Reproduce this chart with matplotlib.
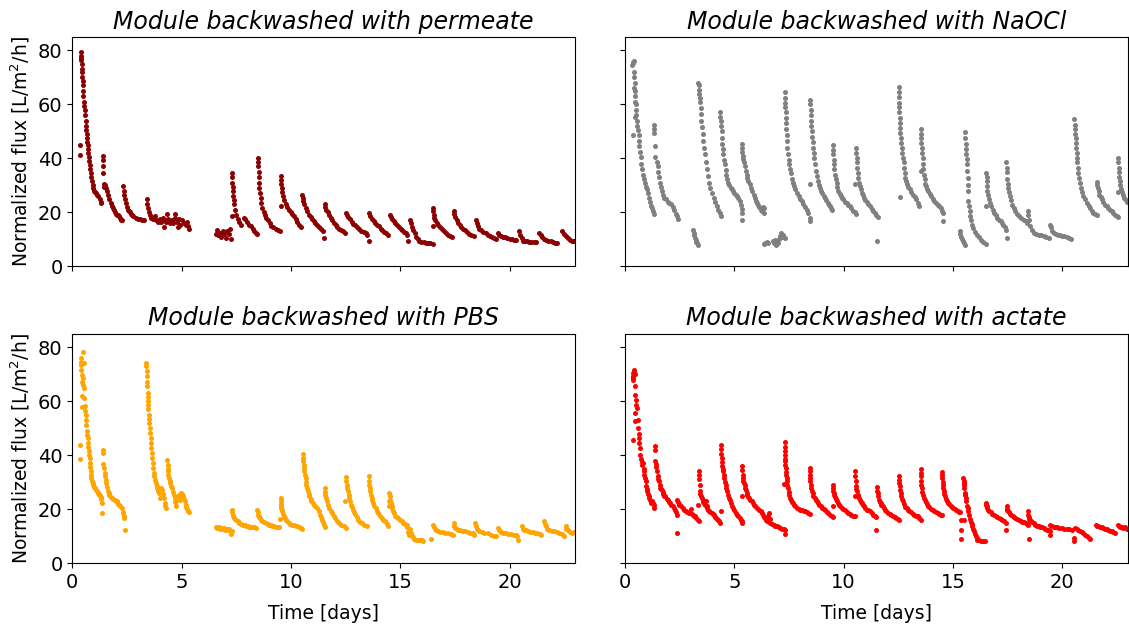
import numpy as np
import matplotlib
matplotlib.use("Agg")
import matplotlib.pyplot as plt

# (time [days], normalized flux [L/m2/h]) for each module
permeate = [
    # first cycle
    (0.36, 44.9), (0.36, 41.3), (0.39, 79.5), (0.40, 78), (0.41, 77), (0.42, 76.5), (0.43, 75),
    (0.44, 73), (0.45, 72), (0.46, 70), (0.47, 68.5), (0.48, 67), (0.50, 65), (0.51, 63),
    (0.53, 61), (0.55, 59.5), (0.57, 58), (0.59, 56), (0.61, 54), (0.63, 52), (0.64, 50.5),
    (0.66, 49), (0.67, 47.5), (0.68, 46), (0.70, 45), (0.72, 43.5), (0.74, 42), (0.76, 40.5),
    (0.78, 39), (0.80, 37.5), (0.83, 36), (0.85, 34.5), (0.88, 33), (0.91, 31.5), (0.94, 30),
    (0.97, 29), (1.01, 28), (1.05, 27.5), (1.10, 27), (1.15, 26.5), (1.20, 26), (1.25, 25),
    (1.30, 24), (1.33, 23.5),
    (1.39, 41), (1.39, 39.5), (1.40, 37), (1.41, 34.5), (1.43, 30.5), (1.45, 29.5), (1.50, 30),
    (1.55, 29), (1.60, 28), (1.65, 26.5), (1.70, 25), (1.75, 23.5), (1.80, 22.5), (1.85, 21.5),
    (1.90, 21), (1.95, 20), (2.00, 19.5), (2.05, 19), (2.10, 19), (2.15, 18.5), (2.20, 18),
    (2.24, 17.3), (2.26, 17),
    (2.33, 29.7), (2.35, 28), (2.38, 26.5), (2.41, 25), (2.45, 23.5), (2.50, 22), (2.55, 21),
    (2.60, 20.5), (2.65, 20), (2.70, 19.5), (2.75, 19), (2.80, 18.5), (2.90, 18), (3.00, 17.5),
    (3.10, 17.5), (3.20, 17), (3.30, 17),
    (3.42, 25), (3.44, 23), (3.47, 21.5), (3.50, 20), (3.55, 19), (3.62, 18), (3.70, 17.5),
    (3.78, 18.5), (3.85, 17), (3.92, 16.5), (4.00, 17.5), (4.08, 16.5), (4.15, 18), (4.20, 14.5),
    (4.22, 17), (4.30, 16.5), (4.35, 19.5), (4.40, 17.5), (4.48, 16), (4.55, 17), (4.62, 16),
    (4.68, 19.5), (4.72, 18), (4.80, 16.5), (4.85, 14.5), (4.88, 17.5), (4.95, 15.5), (5.02, 17),
    (5.10, 16), (5.18, 15.5), (5.25, 16.5), (5.30, 15), (5.36, 14),
    (6.58, 12), (6.62, 13.5), (6.68, 11.5), (6.75, 12.5), (6.82, 11), (6.88, 13), (6.95, 12),
    (7.02, 10.5), (7.08, 13), (7.15, 12), (7.22, 14), (7.28, 10),
    (7.29, 18.6), (7.30, 34.7), (7.31, 33), (7.32, 31), (7.33, 29.5), (7.34, 28), (7.36, 26),
    (7.38, 24.5), (7.41, 23), (7.45, 21), (7.50, 19), (7.56, 17.5), (7.63, 16.5), (7.71, 15.5),
    (7.86, 18), (7.92, 17.5), (8.00, 16.5), (8.08, 15.5), (8.17, 15), (8.25, 14), (8.32, 13),
    (8.40, 12.5), (8.46, 12),
    (8.50, 40), (8.50, 38.5), (8.51, 37), (8.52, 35), (8.53, 33), (8.54, 31), (8.56, 29),
    (8.58, 27), (8.61, 25.5), (8.65, 23.5), (8.70, 21.5), (8.76, 20), (8.82, 19), (8.88, 18),
    (8.95, 17), (9.03, 16), (9.10, 15), (9.20, 14.5), (9.30, 14), (9.40, 13.5), (9.48, 13),
    (9.53, 22.5), (9.53, 33.5), (9.54, 32), (9.55, 30.5), (9.57, 29), (9.60, 27.5), (9.64, 26),
    (9.70, 24.5), (9.76, 23), (9.84, 22), (9.91, 21), (10.00, 20), (10.06, 19.5), (10.14, 18.5),
    (10.21, 17.5), (10.30, 16.5), (10.38, 15.5), (10.45, 14.5),
    (10.52, 26.6), (10.54, 25.5), (10.57, 24.2), (10.62, 23), (10.68, 21.5), (10.74, 20.4),
    (10.82, 19.2), (10.90, 18.2), (10.97, 17.5), (11.05, 16.8), (11.12, 16.2), (11.20, 15.5),
    (11.30, 14.5), (11.38, 13.7), (11.45, 13), (11.50, 10.5),
    (11.55, 23), (11.58, 22), (11.62, 21), (11.68, 20), (11.75, 19), (11.82, 18), (11.90, 17),
    (11.98, 16), (12.05, 15.5), (12.13, 14.5), (12.22, 13.8), (12.30, 13.3), (12.40, 13),
    (12.48, 12.5),
    (12.53, 19.8), (12.57, 19), (12.62, 18.3), (12.70, 17.4), (12.78, 16.5), (12.86, 15.8),
    (12.95, 15.2), (13.03, 14.6), (13.12, 14), (13.22, 13.2), (13.32, 12.6), (13.42, 12.2),
    (13.50, 11.7), (13.55, 9.3),
    (13.57, 19.8), (13.62, 18.8), (13.70, 17.5), (13.78, 16.8), (13.86, 16), (13.94, 15.5),
    (14.02, 14.8), (14.10, 14), (14.18, 13.4), (14.26, 12.8), (14.35, 12.2), (14.44, 11.6),
    (14.53, 19.2), (14.57, 18.3), (14.63, 17.5), (14.70, 16.7), (14.78, 15.9), (14.86, 15.2),
    (14.94, 14.6), (15.02, 14), (15.10, 13.4), (15.18, 12.8), (15.26, 12.2), (15.33, 11.6),
    (15.36, 9.3),
    (15.45, 17), (15.50, 16), (15.55, 14.5), (15.60, 13.5), (15.66, 12.5), (15.72, 11),
    (15.80, 10), (15.88, 9.5), (15.97, 9), (16.08, 9), (16.18, 8.8), (16.27, 8.8), (16.38, 8.5),
    (16.48, 8.2),
    (16.50, 14.9), (16.50, 21.7), (16.51, 20.5), (16.53, 19.2), (16.56, 18), (16.60, 17),
    (16.66, 16), (16.73, 15.3), (16.82, 14.6), (16.90, 13.8), (16.98, 13), (17.08, 12.4),
    (17.18, 11.8), (17.28, 11.3), (17.38, 10.8),
    (17.45, 20.4), (17.47, 19.5), (17.52, 18.2), (17.58, 17), (17.65, 16.2), (17.72, 15.4),
    (17.80, 14.6), (17.88, 14), (17.96, 13.3), (18.05, 12.7), (18.15, 12), (18.25, 11.6),
    (18.36, 11.2),
    (18.47, 17.3), (18.50, 16), (18.55, 14.9), (18.62, 14), (18.70, 13.3), (18.80, 12.8),
    (18.90, 12.2), (19.00, 11.8), (19.10, 11.3), (19.20, 11), (19.30, 10.5), (19.38, 10),
    (19.45, 12.4), (19.52, 11.8), (19.60, 11.2), (19.70, 10.8), (19.80, 10.7), (19.90, 10.5),
    (20.00, 10.3), (20.10, 10), (20.20, 9.9), (20.30, 9.7),
    (20.44, 13), (20.48, 11.8), (20.55, 10.5), (20.62, 9.5), (20.70, 9.3), (20.80, 9.3),
    (20.90, 9.1), (21.00, 9), (21.10, 9), (21.20, 8.9),
    (21.35, 12.4), (21.42, 11.6), (21.50, 10.8), (21.58, 10.3), (21.68, 9.8), (21.78, 9.5),
    (21.88, 9.3), (21.98, 9), (22.08, 8.8), (22.18, 8.5),
    (22.41, 13), (22.48, 12), (22.56, 11.2), (22.65, 10.4), (22.75, 9.9), (22.85, 9.5),
    (22.95, 9.3),
]

naocl = [
    (0.36, 48.6), (0.33, 74.5), (0.35, 75.5), (0.38, 75.8), (0.42, 76), (0.40, 72), (0.42, 70),
    (0.44, 68), (0.41, 66), (0.45, 65), (0.47, 63), (0.44, 61), (0.49, 60), (0.50, 58),
    (0.52, 56), (0.48, 55.5), (0.55, 54), (0.57, 52), (0.60, 50.5), (0.62, 48.5), (0.64, 46.5),
    (0.66, 44.5), (0.69, 42.5), (0.72, 40.5), (0.75, 38), (0.78, 36), (0.82, 34), (0.86, 32.5),
    (0.90, 31), (0.95, 29.5), (1.00, 28.5), (1.05, 27), (1.10, 25.5), (1.15, 24), (1.20, 22.5),
    (1.25, 21.5), (1.30, 20.5), (1.35, 19.5),
    (1.33, 52.5), (1.34, 51), (1.35, 49.5), (1.37, 44.6), (1.37, 40.5), (1.45, 38.5), (1.50, 37),
    (1.53, 35), (1.56, 33), (1.59, 31), (1.63, 29.5), (1.68, 28), (1.73, 26.6), (1.80, 25.5),
    (1.88, 24.8), (1.95, 24), (2.03, 23.5), (2.10, 23), (2.18, 22), (2.25, 21), (2.33, 19.5),
    (2.38, 18.5), (2.41, 17.5),
    (3.12, 13.5), (3.14, 12.5), (3.17, 11.5), (3.20, 10.5), (3.23, 9.8), (3.26, 9), (3.30, 8.5),
    (3.33, 8),
    (3.36, 68), (3.37, 67), (3.38, 65.5), (3.40, 64), (3.42, 62.5), (3.44, 61), (3.46, 58.5),
    (3.48, 56.4), (3.50, 54), (3.53, 51.5), (3.56, 49), (3.59, 46.5), (3.62, 44), (3.65, 41.5),
    (3.69, 38.5), (3.73, 36), (3.78, 33.5), (3.84, 31), (3.89, 29), (3.96, 27), (4.05, 25.4),
    (4.12, 24), (4.20, 22.3), (4.27, 21), (4.33, 19.8), (4.38, 18.6),
    (4.33, 57), (4.36, 55.5), (4.38, 53.9), (4.40, 52), (4.42, 50.2), (4.44, 47.5), (4.45, 45.2),
    (4.48, 43.3), (4.50, 41.5), (4.53, 39.5), (4.56, 37.8), (4.60, 35.8), (4.64, 34),
    (4.68, 32.5), (4.73, 31), (4.78, 30), (4.83, 29), (4.88, 28.5), (4.94, 27.9), (5.00, 27.2),
    (5.06, 26.6), (5.12, 26), (5.18, 25.4), (5.24, 24.2), (5.29, 22.9), (5.33, 21.3),
    (5.36, 19.8), (5.36, 17.3),
    (5.33, 45.2), (5.34, 43.8), (5.36, 42.5), (5.39, 41), (5.42, 39.8), (5.45, 38.5), (5.49, 37),
    (5.52, 35.5), (5.56, 34), (5.60, 32.7), (5.65, 31.5), (5.70, 30.4), (5.76, 29), (5.82, 27.9),
    (5.88, 26.5), (5.94, 25.4), (6.00, 24.3), (6.05, 23.5), (6.10, 22.6), (6.15, 21.9),
    (6.21, 21), (6.27, 20.4), (6.32, 22), (6.36, 21.5), (6.36, 19.8),
    (6.36, 8.3), (6.42, 8.8), (6.48, 9.0), (6.55, 8.7), (6.76, 9.5), (6.80, 8.7), (6.85, 9.9),
    (6.90, 8.0), (6.95, 9.3), (7.00, 8.6), (7.05, 10.2), (7.10, 11.3), (7.15, 12.4), (7.20, 11.0),
    (7.25, 11.8), (7.30, 10.5),
    (7.30, 64.4), (7.31, 62.5), (7.32, 60.5), (7.33, 58.9), (7.35, 57), (7.36, 55.1), (7.37, 53),
    (7.38, 51), (7.40, 48.5), (7.41, 46.5), (7.43, 44), (7.45, 41.5), (7.48, 39.5), (7.52, 37.8),
    (7.55, 36), (7.59, 34.5), (7.63, 32.5), (7.67, 31), (7.73, 29.7), (7.79, 28.5), (7.86, 27.2),
    (7.94, 26), (8.01, 25), (8.09, 24.2), (8.16, 23), (8.24, 21.9), (8.31, 20.8), (8.39, 19.8),
    (8.44, 18), (8.47, 16.7), (8.48, 30.6),
    (8.47, 61.6), (8.48, 60), (8.49, 58), (8.50, 56), (8.51, 54), (8.53, 52), (8.55, 50.2),
    (8.57, 48), (8.59, 46), (8.61, 44), (8.63, 42), (8.66, 40), (8.69, 38), (8.73, 35.3),
    (8.77, 33.5), (8.82, 31.6), (8.87, 30.2), (8.92, 29.1), (8.98, 28), (9.03, 27.2),
    (9.09, 26.2), (9.15, 25.4), (9.21, 24.5), (9.27, 23.5), (9.33, 22.8), (9.38, 22.3),
    (9.43, 21.6), (9.48, 21),
    (9.50, 44.9), (9.51, 43), (9.53, 41.5), (9.55, 39.5), (9.56, 37.8), (9.58, 36), (9.61, 34),
    (9.64, 32.5), (9.68, 31), (9.72, 29.5), (9.76, 27.9), (9.82, 26.8), (9.88, 26), (9.93, 25.3),
    (9.98, 24.8), (10.06, 24), (10.14, 23.5), (10.21, 22.8), (10.29, 22.3), (10.36, 21.5),
    (10.44, 20.4), (10.50, 20), (10.56, 19.5),
    (10.53, 30.5), (10.56, 43.7), (10.57, 42), (10.59, 40.3), (10.61, 38.5), (10.62, 36.6),
    (10.64, 34.5), (10.67, 32.8), (10.70, 31), (10.74, 29.7), (10.78, 28.5), (10.82, 27.3),
    (10.88, 26.3), (10.94, 25.4), (11.00, 24.5), (11.05, 23.7), (11.12, 23), (11.20, 22.3),
    (11.28, 21.3), (11.35, 20.4), (11.42, 19.8), (11.50, 19.2), (11.56, 18.3), (11.53, 9.3),
    (12.53, 66.3), (12.53, 64.5), (12.54, 62.6), (12.54, 60.5), (12.55, 58.9), (12.55, 57),
    (12.56, 55.1), (12.57, 53), (12.58, 51.4), (12.60, 49.5), (12.61, 47.7), (12.64, 45.8),
    (12.67, 44), (12.69, 42), (12.71, 40.3), (12.74, 38.5), (12.76, 36.6), (12.79, 34.6),
    (12.82, 32.8), (12.86, 31.5), (12.91, 30.4), (12.96, 29.5), (13.02, 28.5), (13.10, 27.5),
    (13.17, 26.6), (13.25, 25.7), (13.32, 24.8), (13.40, 23.5), (13.47, 22.3), (12.56, 25.8),
    (13.52, 50.8), (13.53, 49), (13.55, 47.5), (13.56, 45.8), (13.58, 44), (13.60, 42),
    (13.62, 40.3), (13.63, 38), (13.65, 35.9), (13.52, 35.3), (13.68, 33.8), (13.70, 32.2),
    (13.74, 30.5), (13.77, 29.7), (13.82, 28.8), (13.88, 27.9), (13.94, 26.9), (14.00, 26),
    (14.08, 25), (14.15, 24.2), (14.22, 23.5), (14.30, 22.9), (14.38, 22.2), (14.45, 21.7),
    (14.50, 20.5), (14.53, 19.8), (14.53, 16.7),
    (15.30, 13), (15.34, 12), (15.38, 11), (15.42, 10), (15.47, 9.3), (15.52, 8.6), (15.56, 8.1),
    (15.55, 49.6), (15.56, 47.5), (15.58, 45.2), (15.59, 43.3), (15.61, 41.5), (15.62, 39.6),
    (15.64, 37.8), (15.65, 35.3), (15.67, 32.8), (15.68, 30.3), (15.70, 27.9), (15.71, 24.2),
    (15.73, 22.3), (15.76, 20.4), (15.79, 18.8), (15.82, 17.3), (15.88, 15.5), (15.94, 14.3),
    (16.01, 12.9), (16.09, 11.8), (16.18, 10.8), (16.27, 9.9), (16.38, 9), (16.50, 8.3),
    (16.53, 34.7), (16.54, 33), (16.55, 31.5), (16.56, 29.7), (16.58, 27.9), (16.61, 26.3),
    (16.65, 24.8), (16.70, 23.5), (16.76, 22.3), (16.82, 21), (16.88, 19.8), (16.95, 19),
    (17.03, 18), (17.10, 17.3), (17.18, 16.7), (17.24, 16.1), (17.30, 15.5), (17.36, 14.6),
    (17.41, 13.6), (17.45, 10.5), (16.52, 22.5),
    (17.44, 38.7), (17.45, 36.5), (17.46, 35), (17.48, 32.2), (17.50, 30.5), (17.53, 29.1),
    (17.57, 27.5), (17.61, 26), (17.66, 24.5), (17.71, 22.9), (17.78, 21.6), (17.86, 20.4),
    (17.94, 19.5), (18.02, 18.6), (18.12, 17.9), (18.24, 17.3), (18.32, 16.7), (18.39, 16.1),
    (18.42, 20.4), (18.43, 19), (18.46, 17), (18.52, 14.9), (18.60, 13.6), (18.70, 12.4),
    (18.80, 12), (18.92, 11.8), (19.03, 11.5), (19.15, 11.2), (19.27, 10.9), (19.38, 10.5),
    (19.45, 15.5), (19.47, 14.5), (19.52, 13), (19.60, 12.2), (19.70, 12), (19.80, 11.8),
    (19.90, 11.6), (20.00, 11.4), (20.10, 11.1), (20.20, 10.8), (20.30, 10.5), (20.38, 10.2),
    (20.55, 54.5), (20.56, 52.5), (20.57, 50.8), (20.59, 49), (20.61, 47.7), (20.62, 45.8),
    (20.64, 44), (20.66, 42), (20.67, 40.3), (20.69, 38.5), (20.71, 36.6), (20.74, 34.5),
    (20.77, 32.8), (20.81, 30.8), (20.85, 29.1), (20.91, 27.5), (20.97, 26), (21.05, 24.8),
    (21.12, 23.5), (21.20, 22.5), (21.27, 21.7), (21.35, 20.6), (21.42, 19.8), (21.50, 19.4),
    (21.58, 19.2),
    (21.58, 31.4), (21.60, 30.2), (21.62, 29.1), (21.66, 27.8), (21.70, 26.6), (21.75, 25.7),
    (21.80, 24.8), (21.88, 23.8), (21.95, 22.9), (22.03, 22.3), (22.11, 21.7), (22.18, 21),
    (22.26, 20.4), (22.33, 19.8), (22.41, 19.2), (22.48, 18.6), (22.56, 18.2),
    (22.56, 40.3), (22.57, 38.5), (22.58, 36.6), (22.59, 34.8), (22.60, 33), (22.62, 31.5),
    (22.64, 30), (22.67, 28.5), (22.71, 27.5), (22.76, 26.5), (22.82, 25.5), (22.90, 24.5),
    (22.97, 24), (22.55, 27.6),
]

pbs = [
    (0.36, 43.6), (0.36, 38.6), (0.47, 78.1), (0.39, 76), (0.41, 74.5), (0.39, 73.5), (0.52, 74),
    (0.42, 71.7), (0.44, 69.8), (0.48, 68.5), (0.46, 67), (0.50, 66), (0.52, 64.9), (0.45, 61.8),
    (0.55, 61), (0.56, 58.1), (0.44, 57.7), (0.58, 56.5), (0.61, 55), (0.62, 53), (0.64, 51.3),
    (0.66, 49), (0.67, 47.5), (0.70, 46.4), (0.72, 44.5), (0.73, 43), (0.76, 41.4), (0.78, 40),
    (0.79, 38.9), (0.81, 37), (0.82, 35.5), (0.85, 34), (0.87, 32.5), (0.88, 31.5), (0.92, 30.3),
    (0.95, 29.5), (0.97, 29), (1.01, 28.3), (1.05, 27.8), (1.09, 27), (1.12, 26.6), (1.16, 26),
    (1.20, 25.8), (1.24, 25.3), (1.27, 25.3), (1.30, 24.5), (1.33, 23.7), (1.36, 22.2),
    (1.35, 18.5),
    (1.39, 42), (1.39, 40.8), (1.39, 36.7), (1.47, 35.2), (1.49, 33.5), (1.50, 32.2), (1.53, 30.9),
    (1.55, 29.5), (1.58, 28.2), (1.62, 26.6), (1.66, 25.8), (1.70, 25.3), (1.75, 24.6),
    (1.80, 24.1), (1.88, 23.6), (1.95, 23.3), (2.01, 23), (2.06, 22.9), (2.11, 22), (2.15, 21.4),
    (2.20, 21), (2.26, 20.4), (2.30, 19), (2.33, 18.5), (2.36, 17.5), (2.38, 16.7), (2.39, 12.4),
    (3.39, 74.2), (3.39, 73), (3.40, 71.1), (3.42, 69.2), (3.42, 67), (3.44, 65.5), (3.45, 63),
    (3.46, 61.5), (3.47, 60), (3.47, 58.5), (3.48, 56.9), (3.50, 55), (3.52, 53.5), (3.53, 52),
    (3.55, 50.1), (3.56, 48.3), (3.58, 46.4), (3.60, 44.5), (3.62, 42.6), (3.64, 40.8),
    (3.65, 38.9), (3.67, 37), (3.70, 35.2), (3.73, 33.5), (3.76, 32.1), (3.79, 30.8),
    (3.82, 29.7), (3.86, 28.7), (3.89, 27.8), (3.93, 26.8), (3.97, 26), (4.00, 24.1),
    (4.05, 27.8), (4.10, 27), (4.14, 25.5), (4.18, 24), (4.22, 22.3), (4.26, 21), (4.30, 20.4),
    (4.35, 38.3), (4.36, 36.5), (4.37, 35), (4.38, 34), (4.40, 32.5), (4.42, 31.5), (4.45, 30.5),
    (4.48, 29.7), (4.52, 28.7), (4.56, 27.8), (4.60, 26.5), (4.64, 25.3), (4.68, 24.1),
    (4.72, 22.5), (4.76, 21), (4.78, 23.5), (4.83, 25), (4.87, 24), (4.91, 23.5), (4.95, 25.5),
    (4.98, 26), (5.02, 25.5), (5.06, 25), (5.10, 23.8), (5.14, 23), (5.18, 21.5), (5.21, 20.8),
    (5.25, 20), (5.29, 19.2), (5.33, 18.8),
    (6.58, 13.3), (6.64, 13), (6.70, 13.2), (6.76, 12.8), (6.82, 13.1), (6.88, 12.6),
    (6.94, 12.9), (7.00, 12.4), (7.06, 12.8), (7.12, 12.2), (7.18, 12.5), (7.24, 11.5),
    (7.28, 10.8), (7.30, 12),
    (7.30, 19.8), (7.31, 18.8), (7.33, 18), (7.36, 17.3), (7.40, 16.8), (7.44, 16.4), (7.50, 15.8),
    (7.56, 15.5), (7.63, 15), (7.71, 14.5), (7.80, 14.2), (7.88, 14), (7.94, 13.9), (8.02, 13.7),
    (8.10, 13.5), (8.17, 13.4), (8.25, 13.3), (8.32, 13.2), (8.39, 13),
    (8.47, 19.8), (8.48, 18.8), (8.50, 18), (8.52, 17.5), (8.55, 17), (8.58, 16.7), (8.64, 16.1),
    (8.70, 15.7), (8.77, 15.3), (8.85, 14.8), (8.93, 14.5), (9.00, 14.3), (9.08, 14.1),
    (9.15, 13.9), (9.22, 13.7), (9.30, 13.5), (9.38, 13.3), (9.45, 13.2),
    (9.53, 24.1), (9.53, 23), (9.54, 22), (9.55, 21), (9.56, 20.4), (9.58, 19.8), (9.61, 19.2),
    (9.64, 18.2), (9.68, 17.3), (9.72, 16.6), (9.76, 16.1), (9.83, 15.5), (9.91, 15),
    (9.98, 14.6), (10.06, 14.2), (10.14, 14), (10.21, 13.8), (10.29, 13.6), (10.37, 13.3),
    (10.44, 13), (10.50, 12.7), (9.50, 16.3),
    (10.56, 40.4), (10.56, 39), (10.57, 37.7), (10.59, 36.5), (10.61, 35.2), (10.62, 34),
    (10.64, 32.8), (10.67, 31.5), (10.69, 30.2), (10.71, 29), (10.74, 27.8), (10.77, 26.6),
    (10.81, 25.6), (10.85, 24.7), (10.90, 23.8), (10.94, 23), (11.00, 22.2), (11.05, 21.6),
    (11.12, 21), (11.20, 20.4), (11.27, 19.2), (11.35, 17.9), (11.38, 17), (11.42, 16.1),
    (11.46, 15.2), (11.50, 14.2), (11.55, 13.5),
    (11.55, 27.8), (11.56, 26.5), (11.58, 25.3), (11.61, 24), (11.65, 22.9), (11.70, 21.6),
    (11.76, 20.4), (11.82, 19.4), (11.88, 18.5), (11.95, 17.6), (12.03, 16.7), (12.12, 15.7),
    (12.21, 14.8), (12.30, 14.2), (12.41, 13.6), (12.50, 13),
    (12.53, 31.8), (12.54, 30.4), (12.56, 29.1), (12.58, 27.8), (12.61, 26.6), (12.64, 25.3),
    (12.67, 24.1), (12.70, 22.9), (12.74, 21.7), (12.78, 20.7), (12.83, 19.8), (12.88, 19),
    (12.94, 18.2), (13.01, 17.1), (13.09, 16.1), (13.16, 15.3), (13.24, 14.9), (13.35, 14.2),
    (13.47, 13.6), (12.48, 23.1),
    (13.55, 32.2), (13.56, 30.6), (13.58, 29.1), (13.60, 27.8), (13.62, 26.6), (13.66, 25.3),
    (13.70, 24.1), (13.73, 23.2), (13.77, 22.3), (13.82, 21.3), (13.88, 20.4), (13.94, 19.4),
    (14.00, 18.5), (14.08, 17.6), (14.15, 16.7), (14.22, 16.1), (14.30, 15.5), (14.38, 14.5),
    (14.45, 13.6),
    (14.50, 26), (14.51, 24.8), (14.53, 23.5), (14.55, 22.8), (14.58, 22.3), (14.61, 21.2),
    (14.64, 20.4), (14.68, 19.4), (14.73, 18.5), (14.78, 17.6), (14.83, 17.1), (14.90, 16.6),
    (14.98, 16.1), (15.06, 15.5), (15.14, 14.9), (15.22, 14.5), (15.29, 14.2), (15.33, 13.2),
    (15.36, 11.5), (15.38, 10.5), (15.45, 12.5), (15.48, 11), (15.52, 10), (15.58, 9.5),
    (15.64, 9), (15.70, 8.6), (15.78, 8.5), (15.86, 8.7), (15.93, 8.4), (16.00, 8.6),
    (16.05, 8.3), (16.42, 9), (14.48, 22.9), (14.48, 21),
    (16.50, 14.2), (16.53, 13.2), (16.58, 12.6), (16.65, 12.2), (16.73, 12), (16.84, 11.7),
    (16.95, 11.5), (17.06, 11.3), (17.18, 11.1), (17.30, 10.8), (17.41, 10.5),
    (17.45, 14.8), (17.48, 13.8), (17.52, 13), (17.58, 12.6), (17.64, 12.4), (17.75, 12.1),
    (17.86, 12), (17.97, 11.8), (18.09, 11.5), (18.20, 11.3), (18.32, 11.1), (18.39, 10.3),
    (18.44, 14.8), (18.47, 13.6), (18.52, 12.6), (18.57, 12.1), (18.62, 11.8), (18.73, 11.5),
    (18.85, 11.2), (19.00, 11), (19.15, 10.5), (19.27, 10.2), (19.38, 9.9),
    (19.45, 13), (19.50, 12.2), (19.56, 11.8), (19.61, 11.5), (19.72, 11.3), (19.83, 11.2),
    (19.95, 10.9), (20.06, 10.7), (20.20, 10.4), (20.30, 10.3), (20.36, 10.2), (20.40, 8.7),
    (20.55, 13.6), (20.60, 12.8), (20.67, 12.4), (20.75, 12.1), (20.82, 12), (20.94, 11.7),
    (21.05, 11.4), (21.16, 11.2), (21.27, 11.1), (21.38, 10.8), (21.46, 10.3),
    (21.58, 15.5), (21.60, 14.5), (21.65, 13.6), (21.72, 12.8), (21.80, 12.4), (21.92, 12),
    (22.03, 11.8), (22.15, 11.5), (22.26, 11.1), (22.38, 10.7), (22.48, 10.2),
    (22.56, 13.6), (22.60, 12.8), (22.66, 12.3), (22.71, 12), (22.78, 11.6), (22.86, 11.2),
    (22.95, 11.5),
]

acetate = [
    (0.36, 45.7), (0.36, 68.5), (0.38, 70.5), (0.40, 71.5), (0.42, 71), (0.45, 70.2), (0.39, 69.2),
    (0.37, 68), (0.47, 65.5), (0.48, 62.4), (0.52, 60.6), (0.49, 58.5), (0.55, 57.5),
    (0.48, 55.6), (0.45, 52.5), (0.58, 53), (0.61, 50.1), (0.62, 48), (0.64, 46.4), (0.66, 44.5),
    (0.67, 42.6), (0.70, 40.2), (0.73, 38.5), (0.76, 37.5), (0.79, 36.5), (0.82, 37), (0.85, 35),
    (0.87, 34), (0.89, 32.8), (0.92, 31.5), (0.94, 30.3), (0.97, 28.5), (1.00, 27.5),
    (1.02, 26.6), (1.06, 25.5), (1.09, 24.8), (1.12, 24.1), (1.15, 23.3), (1.18, 22.8),
    (1.21, 22.2), (1.24, 23), (1.27, 22.2), (1.31, 21.5), (1.35, 20.5),
    (1.39, 43.3), (1.39, 42), (1.39, 37.7), (1.40, 36.7), (1.44, 35.5), (1.47, 34), (1.49, 32.2),
    (1.52, 31), (1.55, 30.3), (1.58, 29), (1.61, 28), (1.65, 27.6), (1.68, 27.2), (1.72, 26.2),
    (1.76, 25.5), (1.80, 25), (1.85, 24.7), (1.90, 23.8), (1.95, 23.2), (2.00, 22.7),
    (2.06, 22.2), (2.12, 21.5), (2.18, 21), (2.24, 20.4), (2.30, 19.8), (2.34, 18.8),
    (2.38, 17.9), (2.38, 11.1),
    (2.39, 23.5), (2.41, 22.5), (2.45, 22), (2.48, 21.6), (2.55, 21), (2.64, 20.4), (2.70, 19.8),
    (2.79, 19.4), (2.86, 19), (2.94, 18.6), (3.00, 20), (3.05, 18.3), (3.09, 17.9), (3.15, 17.5),
    (3.21, 17.3), (3.27, 16.8), (3.32, 16.1), (3.37, 15.5),
    (3.39, 34), (3.39, 32.8), (3.40, 31), (3.42, 29), (3.44, 26.6), (3.45, 25.5), (3.47, 24.8),
    (3.51, 24), (3.55, 23.5), (3.58, 22.8), (3.62, 22.2), (3.66, 21.5), (3.70, 22.9), (3.73, 21),
    (3.77, 20.4), (3.81, 19.8), (3.85, 19.4), (3.91, 18.8), (3.97, 18.5), (4.02, 18.2),
    (4.08, 17.9), (4.13, 17.1), (4.18, 16.7), (4.22, 16.4), (4.27, 16.1), (4.31, 15.5),
    (4.35, 14.8), (3.36, 21.6),
    (4.38, 43.9), (4.39, 42.2), (4.41, 40.5), (4.42, 38.9), (4.44, 37.3), (4.45, 35.8),
    (4.48, 34.8), (4.50, 34), (4.53, 32.5), (4.55, 31.5), (4.58, 30.2), (4.61, 29), (4.64, 27.8),
    (4.68, 26.6), (4.72, 25.4), (4.76, 24.1), (4.80, 23.2), (4.83, 22.3), (4.88, 21.3),
    (4.94, 20.4), (5.00, 19.5), (5.06, 18.6), (5.12, 17.9), (5.18, 17.3), (5.24, 16.6),
    (5.29, 16.1), (5.33, 15.5), (5.36, 14.8), (4.38, 19.4),
    (5.36, 36.1), (5.37, 34.5), (5.39, 32.8), (5.40, 31.5), (5.42, 30.5), (5.44, 29.8),
    (5.47, 29), (5.50, 27.8), (5.52, 27.1), (5.56, 26), (5.59, 25.3), (5.63, 24.5), (5.67, 24.1),
    (5.73, 23.4), (5.79, 22.9), (5.84, 22.2), (5.89, 21.6), (5.97, 21), (6.05, 20.4),
    (6.12, 19.6), (6.20, 19.2), (6.25, 18.5), (6.30, 17.9), (6.36, 17.2), (6.42, 16.7),
    (6.47, 16), (6.50, 15.5), (6.55, 17.5), (6.58, 18.5), (6.62, 16.5), (6.65, 15), (6.72, 14.5),
    (6.80, 14.2), (6.88, 13.8), (6.95, 13.6), (7.03, 13.3), (7.11, 13), (7.18, 12.8),
    (7.26, 12.6), (7.30, 12.3), (7.33, 10.8), (5.36, 24.7),
    (7.30, 44.8), (7.30, 43), (7.31, 41.5), (7.32, 40.2), (7.32, 38.5), (7.33, 37.7),
    (7.34, 36.4), (7.35, 35.2), (7.36, 33.8), (7.38, 32.7), (7.39, 31.5), (7.41, 30.3),
    (7.43, 29), (7.45, 27.8), (7.48, 26.5), (7.52, 25.3), (7.55, 24.2), (7.59, 23.4),
    (7.63, 22.8), (7.68, 22.2), (7.73, 21.5), (7.79, 21), (7.86, 20.5), (7.94, 20.1),
    (8.01, 19.8), (8.09, 19.5), (8.17, 19.3), (8.24, 19.2), (8.32, 18.8), (8.39, 18.6),
    (8.45, 18.2), (7.29, 29.3),
    (8.44, 35.2), (8.45, 34), (8.45, 32.8), (8.46, 31.5), (8.47, 30.3), (8.49, 29), (8.52, 27.8),
    (8.55, 26.8), (8.58, 26), (8.62, 24.8), (8.67, 24.1), (8.72, 23.4), (8.77, 22.9),
    (8.83, 22.2), (8.89, 21.6), (8.96, 21), (9.03, 20.4), (9.09, 19.9), (9.15, 19.6), (9.22, 19),
    (9.30, 18.5), (9.38, 18), (9.45, 17.6), (9.52, 17.1),
    (9.50, 29), (9.52, 27.8), (9.53, 26.8), (9.56, 26), (9.58, 25.2), (9.61, 24.6), (9.64, 23.8),
    (9.68, 23.1), (9.73, 22.3), (9.79, 21.6), (9.85, 21), (9.91, 20.4), (9.98, 19.9),
    (10.06, 19.5), (10.14, 19), (10.21, 18.5), (10.28, 18.2), (10.36, 17.9), (10.44, 17.6),
    (10.52, 17.3), (9.50, 21),
    (10.52, 34), (10.53, 32.2), (10.55, 30.3), (10.57, 28.5), (10.58, 27.5), (10.62, 26.6),
    (10.64, 25.4), (10.67, 24.7), (10.70, 24), (10.74, 23.5), (10.78, 22.8), (10.82, 22.2),
    (10.88, 21.6), (10.94, 21), (11.00, 20.4), (11.05, 19.8), (11.12, 19.5), (11.20, 19.2),
    (11.28, 18.5), (11.35, 17.9), (11.42, 17.3), (11.50, 16.9), (10.52, 24.7), (11.50, 12.4),
    (11.52, 28.1), (11.53, 26.8), (11.55, 25.8), (11.58, 24.7), (11.62, 23.5), (11.65, 22.8),
    (11.69, 22.2), (11.73, 21.6), (11.79, 21), (11.85, 20.4), (11.90, 19.8), (11.95, 19.2),
    (12.03, 18.7), (12.11, 18.2), (12.18, 17.8), (12.26, 17.3), (12.33, 17), (12.41, 16.7),
    (12.48, 16.4), (12.52, 16.1),
    (12.52, 32.2), (12.53, 30.8), (12.55, 29.7), (12.56, 28.5), (12.58, 27.2), (12.61, 26),
    (12.64, 24.7), (12.67, 23.8), (12.71, 22.9), (12.76, 21.8), (12.82, 20.9), (12.88, 20.3),
    (12.94, 19.8), (13.01, 19.3), (13.09, 18.8), (13.16, 18.3), (13.24, 17.9), (13.32, 17.5),
    (13.39, 17.3), (13.47, 16.7), (13.55, 16.1),
    (13.52, 35), (13.53, 33.5), (13.54, 32.2), (13.55, 30.3), (13.56, 29), (13.58, 27.8),
    (13.60, 26.5), (13.62, 25.3), (13.66, 24.2), (13.70, 23.4), (13.75, 22.6), (13.80, 21.9),
    (13.86, 21.2), (13.92, 20.7), (14.00, 20.2), (14.08, 19.8), (14.15, 19.3), (14.23, 19),
    (14.30, 18.6), (14.38, 18.2), (14.44, 17.9), (14.48, 17.7),
    (14.50, 33.8), (14.51, 32.5), (14.52, 31.5), (14.53, 30.2), (14.54, 29), (14.56, 27.8),
    (14.58, 26.6), (14.61, 25.6), (14.64, 24.7), (14.68, 23.8), (14.73, 23), (14.78, 22.4),
    (14.83, 21.9), (14.89, 21.2), (14.95, 20.8), (15.02, 20.4), (15.09, 20), (15.15, 19.6),
    (15.21, 19.3), (15.27, 19), (15.33, 18.8), (15.36, 16.1), (15.36, 12.1), (15.36, 9),
    (15.48, 31.5), (15.49, 30.5), (15.50, 29.7), (15.51, 28.8), (15.52, 27.8), (15.54, 26),
    (15.56, 25.3), (15.58, 24), (15.61, 22.9), (15.64, 21.2), (15.67, 20.4), (15.70, 19.2),
    (15.74, 17.9), (15.78, 16.3), (15.82, 15.4), (15.86, 14.5), (15.89, 13.6), (15.93, 12.5),
    (15.97, 11.8), (16.01, 10.8), (16.05, 9.9), (16.09, 9.3), (16.12, 8.7), (16.20, 8.5),
    (16.27, 8.3), (16.38, 8.3), (16.48, 8.3), (15.52, 16.1),
    (16.50, 22.3), (16.52, 21.5), (16.55, 21), (16.58, 20.4), (16.61, 19.8), (16.67, 19.2),
    (16.73, 18.8), (16.80, 18.3), (16.88, 17.9), (16.95, 17.4), (17.03, 17), (17.10, 16.6),
    (17.18, 16.3), (17.25, 15.9), (17.33, 15.6), (17.41, 14.8), (17.41, 12.4),
    (17.45, 21), (17.47, 20.2), (17.48, 19.8), (17.52, 19.3), (17.56, 18.8), (17.61, 18.3),
    (17.67, 17.9), (17.73, 17.5), (17.79, 17.1), (17.86, 16.7), (17.94, 16.3), (18.01, 16),
    (18.09, 15.7), (18.17, 15.4), (18.24, 15.1), (18.32, 14.8), (18.39, 14.5), (18.44, 14.2),
    (18.47, 9),
    (18.44, 19.2), (18.45, 18), (18.46, 17.2), (18.48, 16.5), (18.52, 16), (18.55, 15.7),
    (18.62, 15.2), (18.70, 14.8), (18.77, 14.3), (18.85, 13.9), (18.92, 13.7), (19.00, 13.5),
    (19.08, 13.3), (19.15, 13), (19.23, 12.8), (19.30, 12.4), (19.38, 12.2), (19.45, 11.8),
    (19.45, 10.5),
    (19.45, 14.2), (19.53, 13.7), (19.61, 13.5), (19.68, 13.3), (19.76, 13.2), (19.87, 13),
    (19.98, 12.9), (20.10, 12.8), (20.21, 12.7), (20.32, 12.5), (20.44, 12.4), (20.55, 9.3),
    (20.55, 8.2), (20.59, 13), (20.66, 12.6), (20.74, 12.2), (20.82, 11.8), (20.89, 11.5),
    (20.97, 11), (21.05, 10.5), (21.12, 9.9), (21.20, 9.3), (21.27, 9),
    (21.55, 14.2), (21.60, 13.8), (21.65, 13.6), (21.72, 13.4), (21.80, 13.2), (21.88, 12.9),
    (21.95, 12.6), (22.03, 12.5), (22.11, 12.4), (22.18, 12), (22.26, 11.8), (22.34, 11.5),
    (22.41, 11.1),
    (22.56, 14.2), (22.60, 13.7), (22.64, 13.5), (22.72, 13.2), (22.79, 13), (22.88, 13.2),
    (22.96, 12.8),
]

panels = [
    (permeate, "darkred", "Module backwashed with permeate"),
    (naocl, "gray", "Module backwashed with NaOCl"),
    (pbs, "orange", "Module backwashed with PBS"),
    (acetate, "red", "Module backwashed with actate"),
]

fig, axes = plt.subplots(2, 2, figsize=(11.29, 6.25), dpi=100, sharex=True, sharey=True)
fig.subplots_adjust(left=0.064, right=0.999, top=0.941, bottom=0.099, wspace=0.099, hspace=0.293)

for ax, (data, color, title) in zip(axes.flat, panels):
    t, flux = np.array(data).T
    ax.scatter(t, flux, s=13, color=color, linewidths=0)
    ax.set_title(title, fontsize=17, style='italic')
    ax.tick_params(labelsize=14)

axes[0, 0].set_xlim(0, 23)
axes[0, 0].set_ylim(0, 85)
axes[0, 0].set_xticks([0, 5, 10, 15, 20])
axes[0, 0].set_yticks([0, 20, 40, 60, 80])

for ax in axes[:, 0]:
    ax.set_ylabel('Normalized flux [L/m$^2$/h]', fontsize=13.5)
for ax in axes[1, :]:
    ax.set_xlabel('Time [days]', fontsize=13.5, labelpad=9)

plt.savefig("out.png", dpi=100)
